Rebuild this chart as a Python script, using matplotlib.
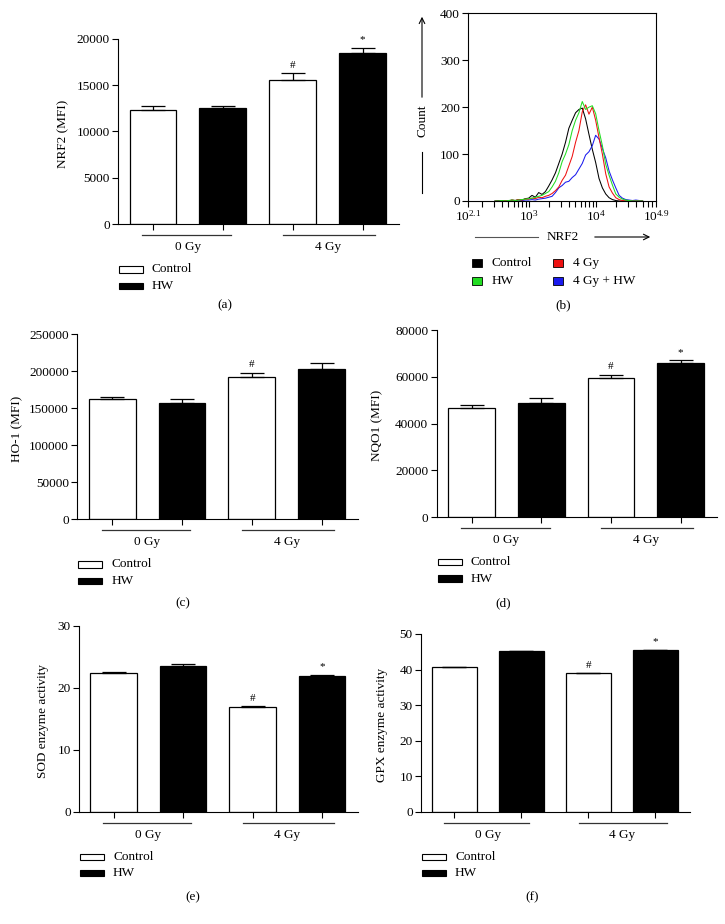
import numpy as np
import matplotlib
matplotlib.use('Agg')
import matplotlib.pyplot as plt
from matplotlib.patches import Rectangle
from matplotlib.lines import Line2D
from matplotlib.ticker import LogLocator, NullFormatter

plt.rcParams['font.family'] = 'Liberation Serif'
plt.rcParams['mathtext.fontset'] = 'custom'
plt.rcParams['mathtext.rm'] = 'Liberation Serif'
plt.rcParams['axes.linewidth'] = 0.8

W, H = 725, 924

# bar order: Control 0 Gy, HW 0 Gy, Control 4 Gy, HW 4 Gy
groups = ['0 Gy', '4 Gy']
treatments = ['Control', 'HW']

nrf2_mean = [12300, 12500, 15500, 18500]
nrf2_err = [500, 300, 750, 550]
nrf2_marks = ['', '', '#', '*']

ho1_mean = [162000, 157000, 192000, 203000]
ho1_err = [3000, 5400, 5900, 8100]
ho1_marks = ['', '', '#', '']

nqo1_mean = [46800, 48900, 59500, 65700]
nqo1_err = [1000, 2000, 1400, 1400]
nqo1_marks = ['', '', '#', '*']

sod_mean = [22.4, 23.5, 16.9, 22.0]
sod_err = [0.15, 0.4, 0.15, 0.1]
sod_marks = ['', '', '#', '*']

gpx_mean = [40.6, 45.2, 38.9, 45.4]
gpx_err = [0.1, 0.15, 0.1, 0.2]
gpx_marks = ['', '', '#', '*']

# flow cytometry histogram (log10 NRF2 bin centre -> count)
hist_bins = np.round(np.arange(2.50, 4.71, 0.05), 2)
hist_labels = ['Control', 'HW', '4 Gy', '4 Gy + HW']
hist_control = [0, 1, 0, 1, 0, 2, 1, 3, 2, 5,
                6, 12, 8, 18, 14, 20, 32, 45, 60, 80,
                100, 125, 155, 172, 188, 195, 198, 175, 142, 110,
                82, 48, 28, 15, 7, 3, 1, 0, 0, 0,
                0, 0, 0, 0, 0]
hist_hw = [0, 0, 1, 0, 1, 2, 1, 2, 3, 4,
           5, 6, 8, 10, 12, 16, 20, 30, 42, 60,
           84, 100, 120, 150, 172, 188, 212, 195, 200, 203,
           186, 150, 118, 78, 55, 34, 15, 8, 4, 2,
           1, 0, 0, 0, 0]
hist_4gy = [0, 0, 0, 1, 0, 2, 1, 3, 2, 4,
            4, 6, 5, 8, 7, 10, 12, 16, 22, 30,
            44, 55, 75, 95, 125, 150, 190, 205, 185, 200,
            172, 135, 100, 58, 30, 17, 7, 3, 1, 0,
            0, 0, 0, 0, 0]
hist_4gy_hw = [0, 0, 0, 0, 1, 0, 1, 0, 1, 2,
               2, 3, 2, 4, 5, 6, 8, 10, 18, 28,
               33, 40, 42, 50, 56, 68, 80, 98, 105, 118,
               140, 132, 112, 92, 64, 45, 28, 12, 6, 3,
               2, 1, 2, 1, 0]
hist_colors = ['black', '#22dd22', '#ee1111', '#1a1aee']

fig = plt.figure(figsize=(W / 100, H / 100), dpi=100)


def P(x, y):
    return (x / W, 1 - y / H)


def bar_panel(box, means, errs, marks, ylim, yticks, ylabel, ylabel_x, caption, caption_x, caption_y):
    left, top, right, bottom = box
    ax = fig.add_axes([left / W, 1 - bottom / H, (right - left) / W, (bottom - top) / H])
    x = np.arange(len(means))
    ax.bar(x, means, width=0.67, color=['white', 'black', 'white', 'black'],
           edgecolor='black', linewidth=0.9, zorder=2)
    ax.errorbar(x, means, yerr=[np.zeros(len(errs)), errs], fmt='none', ecolor='black',
                elinewidth=0.9, capsize=8.5, capthick=0.9, zorder=3)
    for xi, m, e, t in zip(x, means, errs, marks):
        if t:
            ax.annotate(t, (xi, m + e), xytext=(0, 2.5), textcoords='offset points',
                        ha='center', va='bottom', fontsize=8)
    ax.set_xlim(-0.5, 3.52)
    ax.set_ylim(*ylim)
    ax.set_yticks(yticks)
    ax.set_xticks(x)
    ax.set_xticklabels([])
    for s in ['top', 'right']:
        ax.spines[s].set_visible(False)
    ax.tick_params(axis='both', direction='out', length=4, width=0.8, labelsize=9.5, pad=2)

    hpx = bottom - top
    tr = ax.get_xaxis_transform()
    for (x0, x1), xc, g in zip([(-0.15, 1.12), (1.86, 3.17)], [0.5, 2.5], groups):
        ax.plot([x0, x1], [-11 / hpx] * 2, transform=tr, color='#333333', lw=0.9, clip_on=False)
        ax.text(xc, -23 / hpx, g, transform=tr, ha='center', va='center', fontsize=9.5)

    # legend
    for i, (lab, fc) in enumerate(zip(treatments, ['white', 'black'])):
        yy = bottom + 45 + i * 16.5
        bx = left + 1
        fig.patches.append(Rectangle(P(bx, yy + 3.2), 24 / W, 6.4 / H, transform=fig.transFigure,
                                     facecolor=fc, edgecolor='black', lw=0.8))
        fig.text(*P(bx + 33, yy), lab, ha='left', va='center', fontsize=9.5)

    fig.text(*P(ylabel_x, (top + bottom) / 2 + 2), ylabel, rotation=90, ha='center', va='center', fontsize=9.5)
    fig.text(*P(caption_x, caption_y), caption, ha='center', va='center', fontsize=9.5)
    return ax


bar_panel((118, 38.7, 399, 224.3), nrf2_mean, nrf2_err, nrf2_marks, (0, 20000),
          [0, 5000, 10000, 15000, 20000], 'NRF2 (MFI)', 63, '(a)', 225, 305)
bar_panel((77.3, 334.3, 358, 519.3), ho1_mean, ho1_err, ho1_marks, (0, 250000),
          [0, 50000, 100000, 150000, 200000, 250000], 'HO-1 (MFI)', 17, '(c)', 183, 603)
bar_panel((436.7, 330, 717, 517), nqo1_mean, nqo1_err, nqo1_marks, (0, 80000),
          [0, 20000, 40000, 60000, 80000], 'NQO1 (MFI)', 377, '(d)', 503, 603)
bar_panel((79, 626, 358, 811.7), sod_mean, sod_err, sod_marks, (0, 30),
          [0, 10, 20, 30], 'SOD enzyme activity', 43, '(e)', 193, 897)
bar_panel((421, 634, 690, 811.7), gpx_mean, gpx_err, gpx_marks, (0, 50),
          [0, 10, 20, 30, 40, 50], 'GPX enzyme activity', 382, '(f)', 532, 897)

# panel (b): histogram overlay
left, top, right, bottom = 468.3, 13.3, 656, 201
axb = fig.add_axes([left / W, 1 - bottom / H, (right - left) / W, (bottom - top) / H])
for counts, c in zip([hist_control, hist_4gy_hw, hist_4gy, hist_hw],
                     [hist_colors[0], hist_colors[3], hist_colors[2], hist_colors[1]]):
    axb.plot(10 ** hist_bins, counts, color=c, lw=0.75)
axb.set_xscale('log')
axb.set_xlim(10 ** 2.1, 10 ** 4.9)
axb.set_ylim(0, 400)
axb.set_yticks([0, 100, 200, 300, 400])
axb.set_xticks([10 ** 2.1, 1e3, 1e4, 10 ** 4.9])
axb.set_xticklabels([r'$\mathregular{10^{2.1}}$', r'$\mathregular{10^{3}}$',
                     r'$\mathregular{10^{4}}$', r'$\mathregular{10^{4.9}}$'])
axb.xaxis.set_minor_locator(LogLocator(base=10, subs=np.arange(2, 10), numticks=20))
axb.xaxis.set_minor_formatter(NullFormatter())
axb.tick_params(axis='both', which='both', direction='out', length=4, width=0.8, labelsize=9.5, pad=2)

# axis titles with arrows
fig.add_artist(Line2D([422 / W] * 2, [1 - 193 / H, 1 - 152 / H], transform=fig.transFigure, color='black', lw=0.8))
fig.text(*P(422, 121), 'Count', rotation=90, ha='center', va='center', fontsize=9.5)
axb.annotate('', xy=P(422, 14), xytext=P(422, 100), xycoords='figure fraction',
             textcoords='figure fraction', arrowprops=dict(arrowstyle='->', lw=0.8))
fig.add_artist(Line2D([475 / W, 538 / W], [1 - 237 / H] * 2, transform=fig.transFigure, color='#555555', lw=0.8))
fig.text(*P(563, 237), 'NRF2', ha='center', va='center', fontsize=9.5)
axb.annotate('', xy=P(653, 237), xytext=P(592, 237), xycoords='figure fraction',
             textcoords='figure fraction', arrowprops=dict(arrowstyle='->', lw=0.8))

# histogram legend: two columns (Control/HW, 4 Gy/4 Gy + HW)
legend_pos = [(472, 263), (472, 281), (553, 263), (553, 281)]
for (bx, yy), lab, c in zip(legend_pos, hist_labels, hist_colors):
    fig.patches.append(Rectangle(P(bx, yy + 4), 10 / W, 8 / H, transform=fig.transFigure,
                                 facecolor=c, edgecolor='black', lw=0.6))
    fig.text(*P(bx + 20, yy), lab, ha='left', va='center', fontsize=9.5)
fig.text(*P(563, 305), '(b)', ha='center', va='center', fontsize=9.5)

fig.savefig('out.png', dpi=100)
